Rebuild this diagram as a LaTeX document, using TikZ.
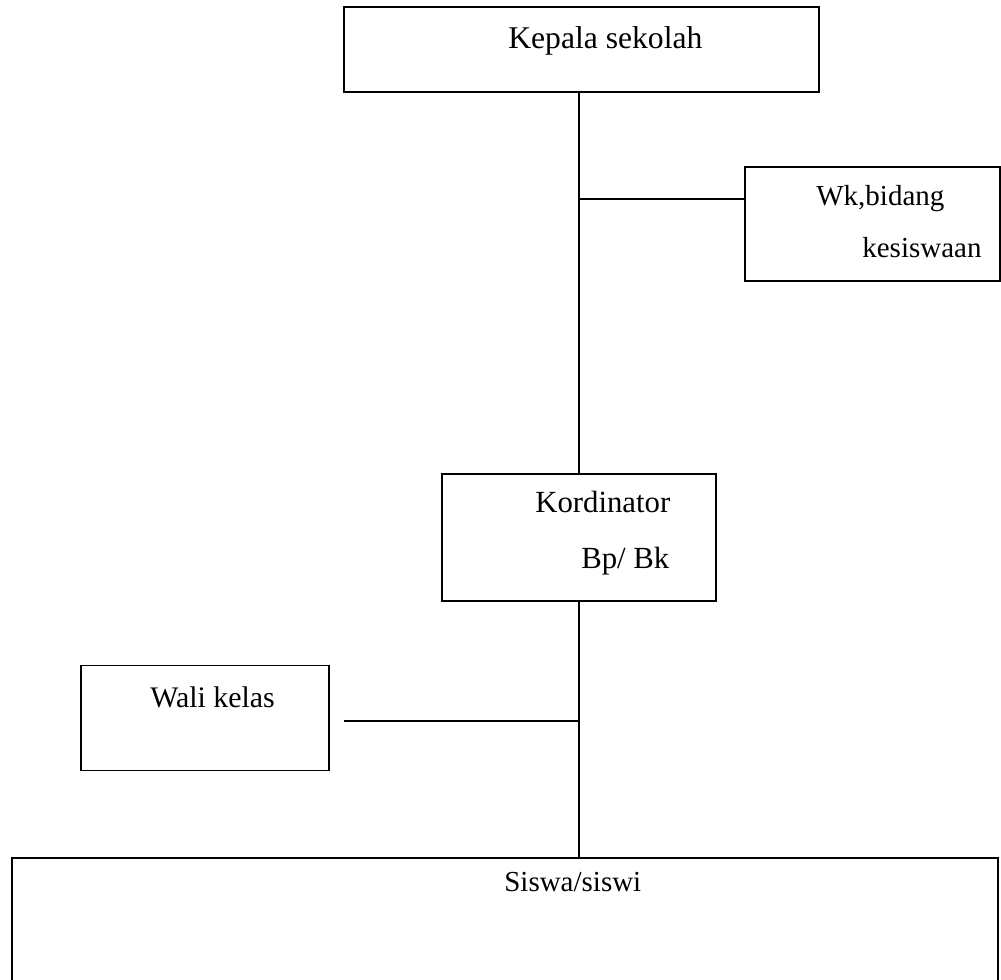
\documentclass[tikz,border=0pt]{standalone}
\usepackage{fontspec}
\setmainfont{Liberation Serif}
\usepackage{tikz}
\usetikzlibrary{shapes,arrows,positioning}
\tikzset{jabatan/.style={rectangle, draw, line width=1.1pt, inner sep=0pt}}
\tikzset{teks/.style={anchor=base west, inner sep=0pt, font=\fontsize{17}{20}\selectfont}}
\tikzset{line/.style={draw, line width=1.1pt}}

\begin{document}
\begin{tikzpicture}[x=0.02cm, y=-0.02cm]
        \clip (0,0) rectangle (1001,980);
        \node[jabatan, minimum width=9.5cm, minimum height=1.7cm]    (kepsek) at (581.5,49.5) {};
        \node[jabatan, minimum width=5.1cm, minimum height=2.28cm]   (wakasis) at (872.5,224) {};
        \node[jabatan, minimum width=5.48cm, minimum height=2.54cm]  (kord) at (579,537.5) {};
        \node[jabatan, minimum width=4.96cm, minimum height=2.1cm]   (wali) at (205,718) {};
        \node[jabatan, minimum width=19.72cm, minimum height=2.84cm] (siswa) at (505,929) {};

        \node[teks, font=\fontsize{18}{21}\selectfont] (tKepsek) at (508,49) {Kepala sekolah};
        \node[teks, font=\fontsize{16.5}{19}\selectfont] (tWk)   at (816,205) {Wk,bidang};
        \node[teks, font=\fontsize{16.5}{19}\selectfont] (tKes)  at (862,257) {kesiswaan};
        \node[teks, font=\fontsize{17.5}{20}\selectfont] (tKord) at (535,512) {Kordinator};
        \node[teks, font=\fontsize{17.5}{20}\selectfont] (tBpBk) at (581,568) {Bp/ Bk};
        \node[teks] (tWali) at (150,707) {Wali kelas};
        \node[teks, font=\fontsize{16.5}{19}\selectfont] (tSiswa) at (504,891) {Siswa/siswi};

        \coordinate (cabWk) at (579,199);
        \coordinate (ujungWali) at (344,721);

        \path[line] (kepsek.south -| kord) --   (kord.north);
        \path[line] (cabWk) --                  (cabWk -| wakasis.west);
        \path[line] (kord.south) --             (kord.south |- siswa.north);
        \path[line] (ujungWali) --              (ujungWali -| kord);
      \end{tikzpicture}
\end{document}
